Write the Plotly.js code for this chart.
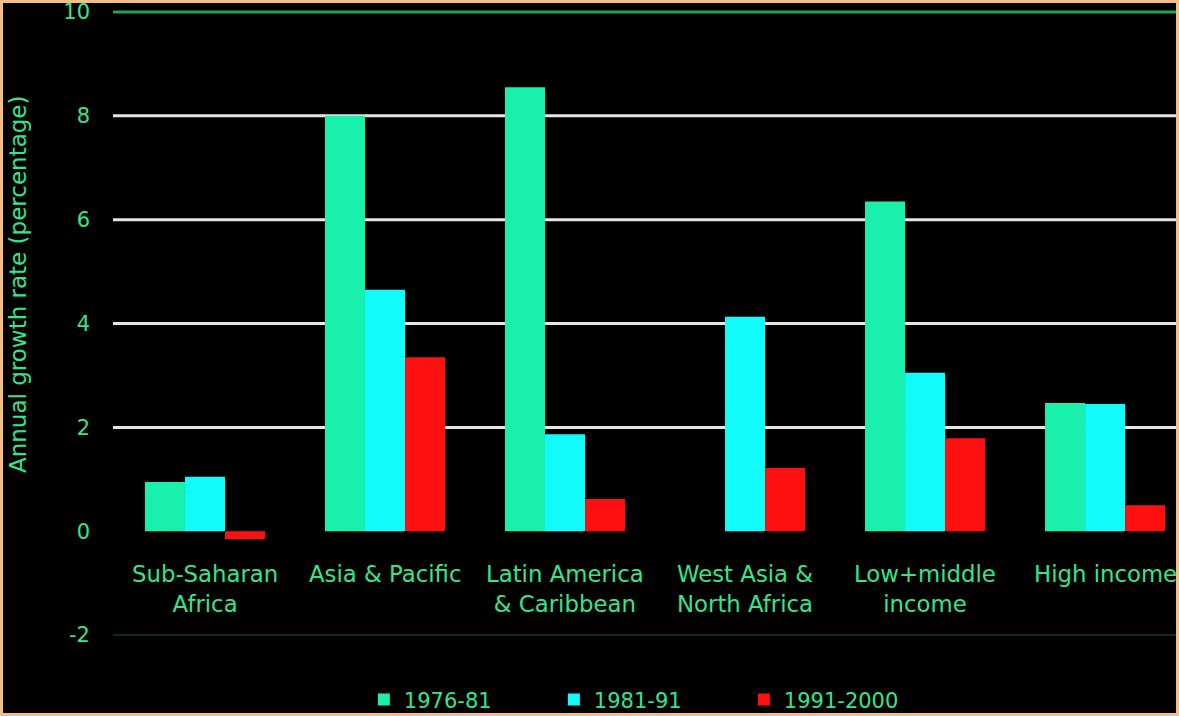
<!DOCTYPE html>
<html>
<head>
<meta charset="utf-8">
<script src="https://cdn.plot.ly/plotly-3.0.1.min.js"></script>
<style>
  html, body { margin: 0; padding: 0; background: #000; }
  #wrap { width: 1179px; height: 716px; box-sizing: border-box; border: 3px solid #f2bd86; background: #000; }
  #chart { width: 1173px; height: 710px; }
</style>
</head>
<body>
<div id="wrap"><div id="chart"></div></div>
<script>
// ---- data ----
const categories = ["Sub-Saharan Africa", "Asia & Pacific", "Latin America & Caribbean", "West Asia & North Africa", "Low+middle income", "High income"];
const categoryLabels = ["Sub-Saharan<br>Africa", "Asia & Pacific", "Latin America<br>& Caribbean", "West Asia &<br>North Africa", "Low+middle<br>income", "High income"];
const seriesNames = ["1976-81", "1981-91", "1991-2000"];
const v1976_81 = [0.95, 8.0, 8.55, null, 6.35, 2.47];
const v1981_91 = [1.05, 4.65, 1.87, 4.13, 3.05, 2.45];
const v1991_2000 = [-0.15, 3.35, 0.62, 1.22, 1.79, 0.5];
const yTicks = [-2, 0, 2, 4, 6, 8, 10];
const whiteGrid = [2, 4, 6, 8];
const greenGrid = [10];
const darkGrid = [-2];
const yTitle = "Annual growth rate (percentage)";

const TXT = "#35e58c";
const FONT = "DejaVu Sans, Verdana, sans-serif";
const colors = ["#18f0ac", "#12fbfb", "#ff1010"];
const seriesVals = [v1976_81, v1981_91, v1991_2000];

const xIdx = categories.map((c, i) => i);
const traces = seriesNames.map((n, k) => ({
  type: "bar",
  name: n,
  x: xIdx,
  y: seriesVals[k],
  marker: { color: colors[k], line: { width: 0 } },
  hoverinfo: "x+y"
}));

const shapes = [];
whiteGrid.forEach(v => shapes.push({ type: "line", layer: "below", xref: "paper", yref: "y", x0: 0, x1: 1, y0: v, y1: v, line: { color: "#e6e6e6", width: 3 } }));
greenGrid.forEach(v => shapes.push({ type: "line", layer: "below", xref: "paper", yref: "y", x0: 0, x1: 1, y0: v, y1: v, line: { color: "#22a355", width: 3 } }));
darkGrid.forEach(v => shapes.push({ type: "line", layer: "below", xref: "paper", yref: "y", x0: 0, x1: 1, y0: v, y1: v, line: { color: "#0f2a1c", width: 2 } }));

const annotations = categoryLabels.map((t, i) => ({
  x: xIdx[i], y: -0.54, xref: "x", yref: "y",
  text: t, showarrow: false, yanchor: "top", xanchor: "center", align: "center",
  font: { family: FONT, size: 22.8, color: TXT }
}));
annotations.push({
  xref: "paper", yref: "y", x: -0.0894, y: 4.76, xanchor: "center", yanchor: "middle",
  text: yTitle, textangle: -90, showarrow: false,
  font: { family: FONT, size: 23, color: TXT }
});

const layout = {
  width: 1173, height: 710,
  paper_bgcolor: "#000", plot_bgcolor: "#000",
  margin: { l: 110, r: 0, t: 2, b: 53, autoexpand: false },
  barmode: "group", bargap: 0.333, bargroupgap: 0,
  showlegend: true,
  legend: {
    orientation: "h", x: 0.236, xanchor: "left", y: -0.061, yanchor: "middle",
    font: { family: FONT, size: 21, color: TXT },
    itemwidth: 30, entrywidth: 145, entrywidthmode: "pixels",
    bgcolor: "rgba(0,0,0,0)"
  },
  xaxis: {
    range: [-0.511, 5.394], showgrid: false, zeroline: false, showline: false,
    showticklabels: false, ticks: "", fixedrange: true, automargin: false
  },
  yaxis: {
    range: [-2.48, 10.135], tickvals: yTicks, ticktext: yTicks.map(String),
    showgrid: false, zeroline: false, showline: false, ticks: "",
    ticklabelstandoff: 22, ticklabeloverflow: "allow", automargin: false,
    tickfont: { family: FONT, size: 21, color: TXT },
    fixedrange: true
  },
  shapes: shapes,
  annotations: annotations
};

Plotly.newPlot("chart", traces, layout, { displayModeBar: false, staticPlot: true });
</script>
</body>
</html>
